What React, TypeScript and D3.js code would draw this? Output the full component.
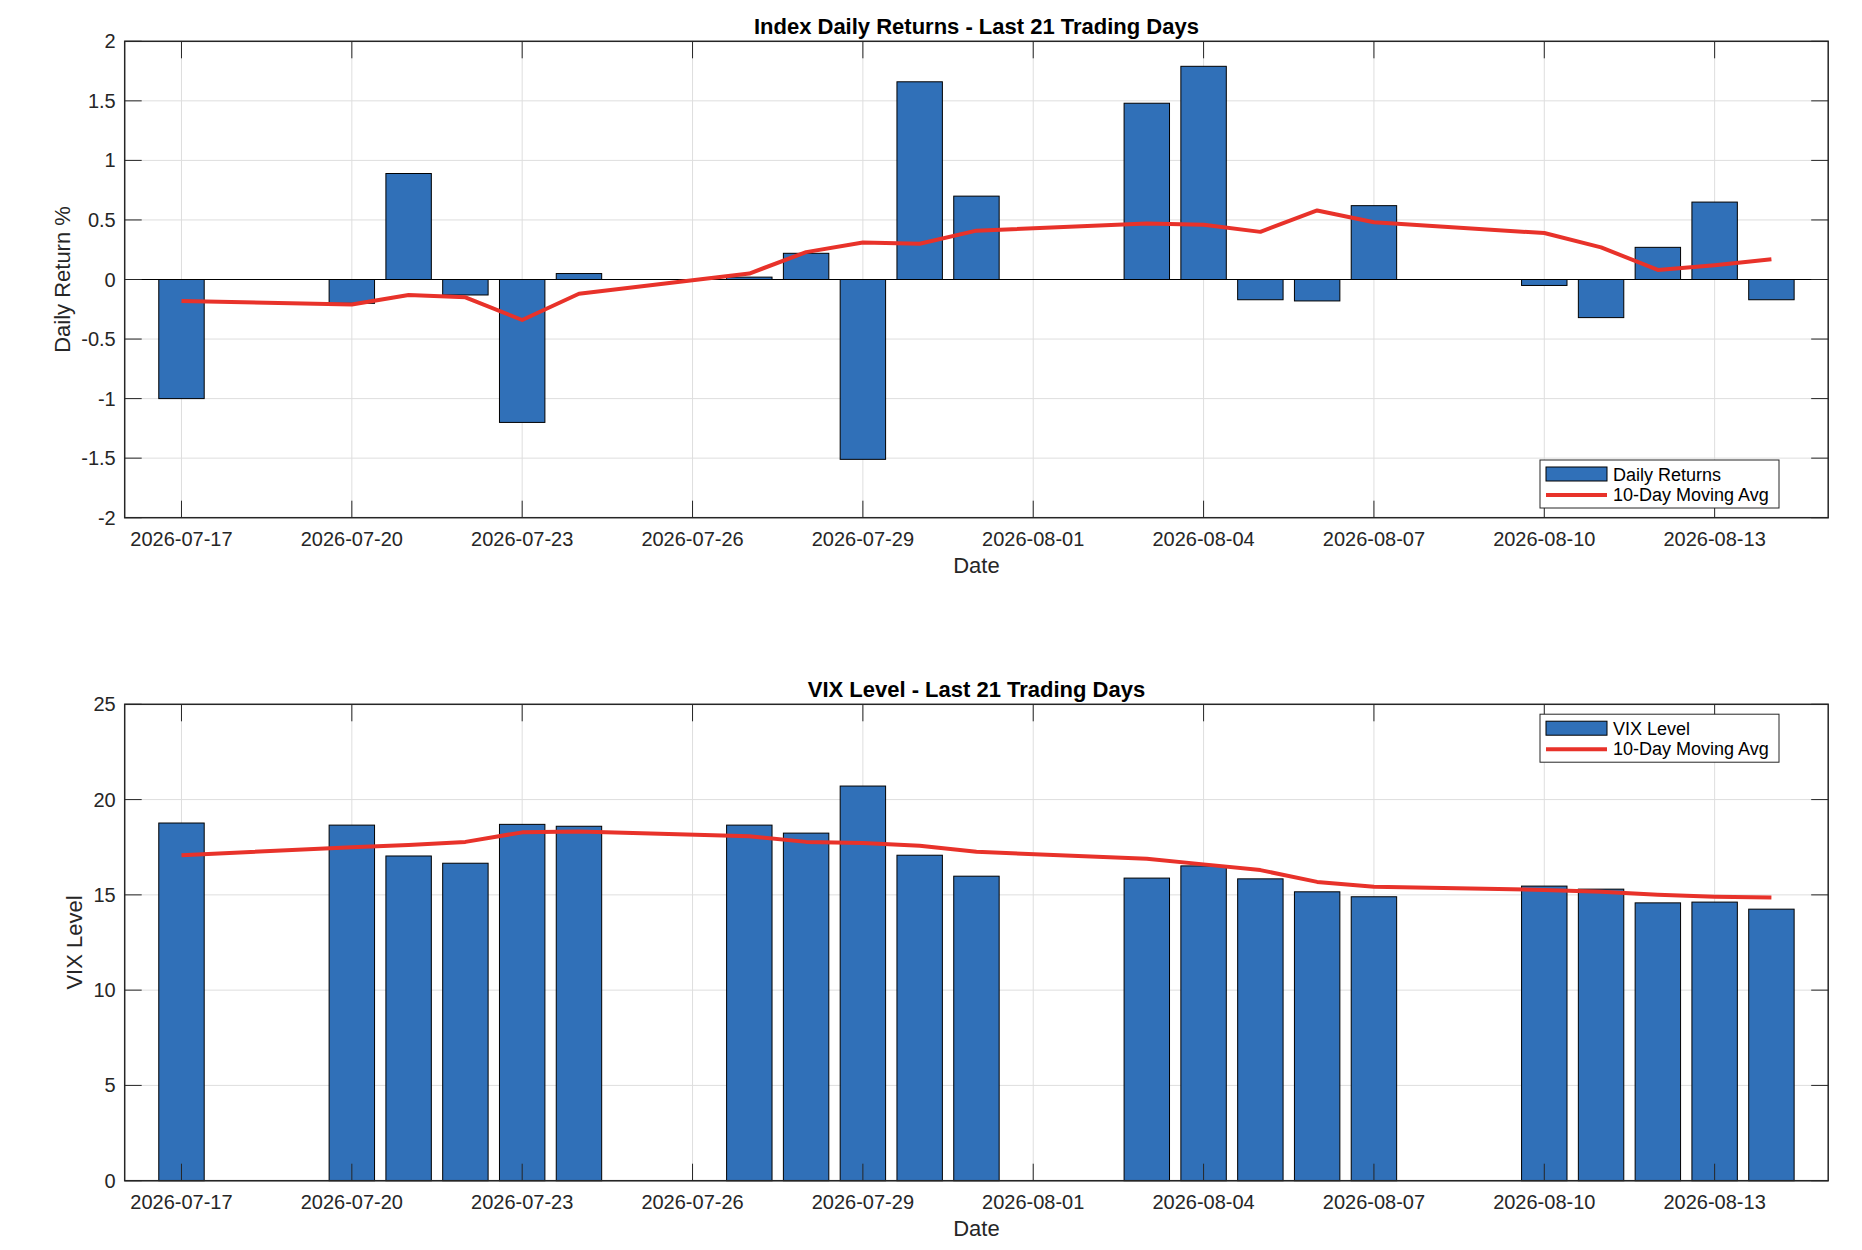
import { useRef, useEffect } from 'react'
import * as d3 from 'd3'

// trading days shown in both panels
const dates = [
  '2026-07-17', '2026-07-20', '2026-07-21', '2026-07-22', '2026-07-23', '2026-07-24',
  '2026-07-27', '2026-07-28', '2026-07-29', '2026-07-30', '2026-07-31',
  '2026-08-03', '2026-08-04', '2026-08-05', '2026-08-06', '2026-08-07',
  '2026-08-10', '2026-08-11', '2026-08-12', '2026-08-13', '2026-08-14',
]

const dailyReturns = [
  -1.0, -0.2, 0.89, -0.13, -1.2, 0.05,
  0.02, 0.22, -1.51, 1.66, 0.7,
  1.48, 1.79, -0.17, -0.18, 0.62,
  -0.05, -0.32, 0.27, 0.65, -0.17,
]

const returnsMA = [
  -0.18, -0.21, -0.13, -0.15, -0.34, -0.12,
  0.05, 0.23, 0.31, 0.3, 0.41,
  0.47, 0.46, 0.4, 0.58, 0.48,
  0.39, 0.27, 0.08, 0.12, 0.17,
]

const vixLevel = [
  18.77, 18.66, 17.04, 16.66, 18.7, 18.6,
  18.66, 18.24, 20.71, 17.08, 15.98,
  15.88, 16.52, 15.84, 15.16, 14.9,
  15.46, 15.3, 14.58, 14.62, 14.25,
]

const vixMA = [
  17.08, 17.5, 17.62, 17.78, 18.28, 18.32,
  18.08, 17.78, 17.72, 17.58, 17.26,
  16.9, 16.6, 16.3, 15.68, 15.42,
  15.26, 15.16, 15.0, 14.9, 14.86,
]

const xTickLabels = [
  '2026-07-17', '2026-07-20', '2026-07-23', '2026-07-26', '2026-07-29',
  '2026-08-01', '2026-08-04', '2026-08-07', '2026-08-10', '2026-08-13',
]
const xDomain = ['2026-07-16', '2026-08-15']

const returnTicks = [-2, -1.5, -1, -0.5, 0, 0.5, 1, 1.5, 2]
const vixTicks = [0, 5, 10, 15, 20, 25]

const W = 1862
const H = 1250
const BAR_BLUE = '#3070b8'
const LINE_RED = '#e8322a'
const FONT = 'Liberation Sans, Arial, Helvetica, sans-serif'

interface PanelOpts {
  top: number
  bottom: number
  title: string
  yLabel: string
  yLabelX: number
  yDomain: [number, number]
  yTicks: number[]
  bars: number[]
  ma: number[]
  barName: string
  legendTop: number
}

export default function App() {
  const svgRef = useRef<SVGSVGElement>(null)

  useEffect(() => {
    if (!svgRef.current) return
    const svg = d3.select(svgRef.current)
    svg.selectAll('*').remove()
    svg.attr('width', W).attr('height', H)
    svg.append('rect').attr('width', W).attr('height', H).attr('fill', '#fff')

    const left = 124.7
    const right = 1828.2
    const parse = d3.utcParse('%Y-%m-%d')
    const x = d3
      .scaleUtc()
      .domain(xDomain.map((d) => parse(d) as Date))
      .range([left, right])
    const dayPx = x(parse('2026-07-18') as Date) - x(parse('2026-07-17') as Date)
    const barW = dayPx * 0.8
    const dateObjs = dates.map((d) => parse(d) as Date)
    const tickDates = xTickLabels.map((d) => parse(d) as Date)

    const drawPanel = (o: PanelOpts) => {
      const y = d3.scaleLinear().domain(o.yDomain).range([o.bottom, o.top])
      const g = svg.append('g')

      // grid
      g.selectAll('line.vg')
        .data(tickDates)
        .join('line')
        .attr('x1', (d) => x(d))
        .attr('x2', (d) => x(d))
        .attr('y1', o.top)
        .attr('y2', o.bottom)
        .attr('stroke', '#dedede')
        .attr('stroke-width', 1)
      g.selectAll('line.hg')
        .data(o.yTicks)
        .join('line')
        .attr('x1', left)
        .attr('x2', right)
        .attr('y1', (d) => y(d))
        .attr('y2', (d) => y(d))
        .attr('stroke', '#dedede')
        .attr('stroke-width', 1)

      // bars
      const y0 = y(0)
      g.selectAll('rect.bar')
        .data(o.bars)
        .join('rect')
        .attr('x', (_, i) => x(dateObjs[i]) - barW / 2)
        .attr('width', barW)
        .attr('y', (d) => Math.min(y(d), y0))
        .attr('height', (d) => Math.abs(y(d) - y0))
        .attr('fill', BAR_BLUE)
        .attr('stroke', '#000')
        .attr('stroke-width', 1)

      // baseline
      g.append('line')
        .attr('x1', left)
        .attr('x2', right)
        .attr('y1', y0)
        .attr('y2', y0)
        .attr('stroke', '#000')
        .attr('stroke-width', 1)

      // moving average
      const line = d3
        .line<number>()
        .x((_, i) => x(dateObjs[i]))
        .y((d) => y(d))
      g.append('path')
        .attr('d', line(o.ma) ?? '')
        .attr('fill', 'none')
        .attr('stroke', LINE_RED)
        .attr('stroke-width', 4)
        .attr('stroke-linejoin', 'round')

      // axes box + inward ticks
      const tickLen = 17
      const axisCol = '#262626'
      g.append('rect')
        .attr('x', left)
        .attr('y', o.top)
        .attr('width', right - left)
        .attr('height', o.bottom - o.top)
        .attr('fill', 'none')
        .attr('stroke', axisCol)
        .attr('stroke-width', 1.5)
      tickDates.forEach((d) => {
        const tx = x(d)
        g.append('line').attr('x1', tx).attr('x2', tx).attr('y1', o.bottom).attr('y2', o.bottom - tickLen).attr('stroke', axisCol)
        g.append('line').attr('x1', tx).attr('x2', tx).attr('y1', o.top).attr('y2', o.top + tickLen).attr('stroke', axisCol)
      })
      o.yTicks.forEach((v) => {
        const ty = y(v)
        g.append('line').attr('x1', left).attr('x2', left + tickLen).attr('y1', ty).attr('y2', ty).attr('stroke', axisCol)
        g.append('line').attr('x1', right).attr('x2', right - tickLen).attr('y1', ty).attr('y2', ty).attr('stroke', axisCol)
      })

      // tick labels
      g.selectAll('text.xt')
        .data(xTickLabels)
        .join('text')
        .attr('x', (_, i) => x(tickDates[i]))
        .attr('y', o.bottom + 21)
        .attr('text-anchor', 'middle')
        .attr('dominant-baseline', 'central')
        .attr('font-family', FONT)
        .attr('font-size', '20px')
        .attr('fill', axisCol)
        .text((d) => d)
      g.selectAll('text.yt')
        .data(o.yTicks)
        .join('text')
        .attr('x', left - 9)
        .attr('y', (d) => y(d))
        .attr('text-anchor', 'end')
        .attr('dominant-baseline', 'central')
        .attr('font-family', FONT)
        .attr('font-size', '20px')
        .attr('fill', axisCol)
        .text((d) => String(d))

      // labels
      g.append('text')
        .attr('x', (left + right) / 2)
        .attr('y', o.bottom + 48)
        .attr('text-anchor', 'middle')
        .attr('dominant-baseline', 'central')
        .attr('font-family', FONT)
        .attr('font-size', '22px')
        .attr('fill', axisCol)
        .text('Date')
      g.append('text')
        .attr('transform', `translate(${o.yLabelX}, ${(o.top + o.bottom) / 2}) rotate(-90)`)
        .attr('text-anchor', 'middle')
        .attr('dominant-baseline', 'central')
        .attr('font-family', FONT)
        .attr('font-size', '22px')
        .attr('fill', axisCol)
        .text(o.yLabel)
      g.append('text')
        .attr('x', (left + right) / 2)
        .attr('y', o.top - 14.5)
        .attr('text-anchor', 'middle')
        .attr('dominant-baseline', 'central')
        .attr('font-family', FONT)
        .attr('font-size', '22px')
        .attr('font-weight', '700')
        .attr('fill', '#000')
        .text(o.title)

      // legend
      const lx = 1540
      const lw = 239
      const lh = 48
      const lg = g.append('g').attr('transform', `translate(${lx}, ${o.legendTop})`)
      lg.append('rect')
        .attr('width', lw)
        .attr('height', lh)
        .attr('fill', '#fff')
        .attr('stroke', axisCol)
        .attr('stroke-width', 1)
      lg.append('rect')
        .attr('x', 6)
        .attr('y', 7)
        .attr('width', 61)
        .attr('height', 14)
        .attr('fill', BAR_BLUE)
        .attr('stroke', '#000')
        .attr('stroke-width', 1)
      lg.append('line')
        .attr('x1', 6)
        .attr('x2', 67)
        .attr('y1', 35)
        .attr('y2', 35)
        .attr('stroke', LINE_RED)
        .attr('stroke-width', 4)
      ;[o.barName, '10-Day Moving Avg'].forEach((t, i) => {
        lg.append('text')
          .attr('x', 73)
          .attr('y', 14.5 + i * 20.5)
          .attr('dominant-baseline', 'central')
          .attr('font-family', FONT)
          .attr('font-size', '18px')
          .attr('fill', '#000')
          .text(t)
      })
    }

    drawPanel({
      top: 41.3,
      bottom: 517.7,
      title: 'Index Daily Returns - Last 21 Trading Days',
      yLabel: 'Daily Return %',
      yLabelX: 62.3,
      yDomain: [-2, 2],
      yTicks: returnTicks,
      bars: dailyReturns,
      ma: returnsMA,
      barName: 'Daily Returns',
      legendTop: 460,
    })

    drawPanel({
      top: 704.3,
      bottom: 1180.7,
      title: 'VIX Level - Last 21 Trading Days',
      yLabel: 'VIX Level',
      yLabelX: 74.2,
      yDomain: [0, 25],
      yTicks: vixTicks,
      bars: vixLevel,
      ma: vixMA,
      barName: 'VIX Level',
      legendTop: 714.2,
    })

    return () => {
      svg.selectAll('*').remove()
    }
  }, [])

  return (
    <div style={{ position: 'absolute', left: 0, top: 0 }}>
      <svg ref={svgRef} style={{ display: 'block' }} />
    </div>
  )
}
